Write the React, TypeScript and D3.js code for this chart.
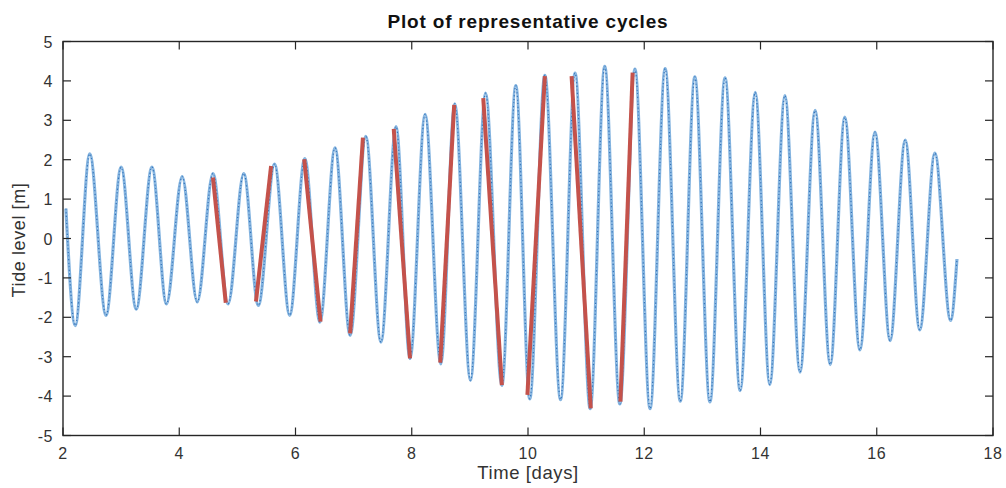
import React from "react";
import * as d3 from "d3";

// Extrema of the tide record (time in days, level in m)
const extremaTimes = [
  2.05, 2.21, 2.46, 2.74, 3.0, 3.26, 3.53, 3.78, 4.05, 4.31, 4.58, 4.84, 5.11, 5.36,
  5.64, 5.9, 6.16, 6.42, 6.68, 6.94, 7.21, 7.47, 7.73, 7.97, 8.23, 8.5, 8.74, 9.01,
  9.27, 9.55, 9.79, 10.03, 10.29, 10.56, 10.81, 11.07, 11.32, 11.58, 11.84, 12.1,
  12.36, 12.62, 12.87, 13.13, 13.39, 13.65, 13.91, 14.16, 14.42, 14.68, 14.94, 15.2,
  15.45, 15.71, 15.97, 16.23, 16.49, 16.74, 17.0, 17.27, 17.38,
];
const extremaLevels = [
  0.76, -2.21, 2.15, -1.95, 1.81, -1.79, 1.81, -1.66, 1.57, -1.61, 1.65, -1.66, 1.65,
  -1.7, 1.89, -1.95, 2.03, -2.12, 2.3, -2.46, 2.59, -2.63, 2.84, -3.05, 3.15, -3.18,
  3.42, -3.6, 3.69, -3.73, 3.88, -4.07, 4.14, -4.09, 4.2, -4.32, 4.37, -4.2, 4.3,
  -4.32, 4.31, -4.13, 4.1, -4.15, 4.08, -3.86, 3.71, -3.71, 3.63, -3.39, 3.25, -3.2,
  3.08, -2.83, 2.7, -2.59, 2.5, -2.32, 2.17, -2.08, -0.52,
];

// Representative cycles (red segments)
const cycleStartTime = [4.58, 5.32, 6.15, 6.94, 7.69, 8.49, 9.23, 9.99, 10.75, 11.59];
const cycleStartLevel = [1.55, -1.6, 2.01, -2.41, 2.78, -3.15, 3.56, -3.97, 4.12, -4.14];
const cycleEndTime = [4.8, 5.58, 6.43, 7.16, 7.97, 8.73, 9.55, 10.29, 11.08, 11.8];
const cycleEndLevel = [-1.63, 1.84, -2.11, 2.56, -3.04, 3.39, -3.72, 4.12, -4.31, 4.21];

const xTicks = [2, 4, 6, 8, 10, 12, 14, 16, 18];
const yTicks = [-5, -4, -3, -2, -1, 0, 1, 2, 3, 4, 5];

const W = 1006;
const H = 488;
const M = { left: 63, right: 13, top: 41.5, bottom: 52.5 };
const FONT = "'Liberation Sans', Arial, Helvetica, sans-serif";
const AX = "#262626";

export default function App() {
  const x = d3.scaleLinear().domain([2, 18]).range([M.left, W - M.right]);
  const y = d3.scaleLinear().domain([-5, 5]).range([H - M.bottom, M.top]);

  const pts: [number, number][] = extremaTimes.map((t, i) => [t, extremaLevels[i]]);
  const line = d3
    .line<[number, number]>()
    .x((d) => x(d[0]))
    .y((d) => y(d[1]))
    .curve(d3.curveMonotoneX);
  const path = line(pts) || "";

  const x0 = x(2), x1 = x(18), y0 = y(-5), y1 = y(5);
  const tl = 8;

  return (
    <svg
      width={W}
      height={H}
      style={{ position: "absolute", left: 0, top: 0, background: "#fff" }}
      fontFamily={FONT}
    >
      <rect x={0} y={0} width={W} height={H} fill="#fff" />
      {/* data */}
      <path d={path} fill="none" stroke="#84b4e0" strokeWidth={3.2} strokeLinejoin="round" />
      <path
        d={path}
        fill="none"
        stroke="#3573b8"
        strokeWidth={1.2}
        strokeDasharray="1.2 2.4"
        strokeLinejoin="round"
      />
      <path d={path} fill="none" stroke="#ffffff" strokeOpacity={0.55} strokeWidth={0.7} strokeDasharray="0.8 4.5" />
      {cycleStartTime.map((t, i) => (
        <line
          key={"c" + i}
          x1={x(t)}
          y1={y(cycleStartLevel[i])}
          x2={x(cycleEndTime[i])}
          y2={y(cycleEndLevel[i])}
          stroke="#c4524b"
          strokeWidth={4}
          strokeLinecap="butt"
        />
      ))}
      {/* box */}
      <rect x={x0} y={y1} width={x1 - x0} height={y0 - y1} fill="none" stroke={AX} strokeWidth={1.4} />
      {xTicks.map((v) => (
        <g key={"x" + v}>
          <line x1={x(v)} x2={x(v)} y1={y0} y2={y0 - tl} stroke={AX} strokeWidth={1.2} />
          <line x1={x(v)} x2={x(v)} y1={y1} y2={y1 + tl} stroke={AX} strokeWidth={1.2} />
          <text x={x(v)} y={y0 + 23} textAnchor="middle" fontSize={16} letterSpacing={0.5} fill="#333">
            {v}
          </text>
        </g>
      ))}
      {yTicks.map((v) => (
        <g key={"y" + v}>
          <line x1={x0} x2={x0 + tl} y1={y(v)} y2={y(v)} stroke={AX} strokeWidth={1.2} />
          <line x1={x1} x2={x1 - tl} y1={y(v)} y2={y(v)} stroke={AX} strokeWidth={1.2} />
          <text x={x0 - 10} y={y(v) + 6} textAnchor="end" fontSize={16} letterSpacing={0.5} fill="#333">
            {v}
          </text>
        </g>
      ))}
      <text x={(x0 + x1) / 2} y={479} textAnchor="middle" fontSize={18.5} letterSpacing={0.6} fill="#333">
        Time [days]
      </text>
      <text
        transform={`translate(25,240) rotate(-90)`}
        textAnchor="middle"
        fontSize={18}
        letterSpacing={0.6}
        fill="#333"
      >
        Tide level [m]
      </text>
      <text
        x={(x0 + x1) / 2}
        y={28}
        textAnchor="middle"
        fontSize={19}
        fontWeight="bold"
        letterSpacing={0.8}
        fill="#111"
      >
        Plot of representative cycles
      </text>
    </svg>
  );
}
